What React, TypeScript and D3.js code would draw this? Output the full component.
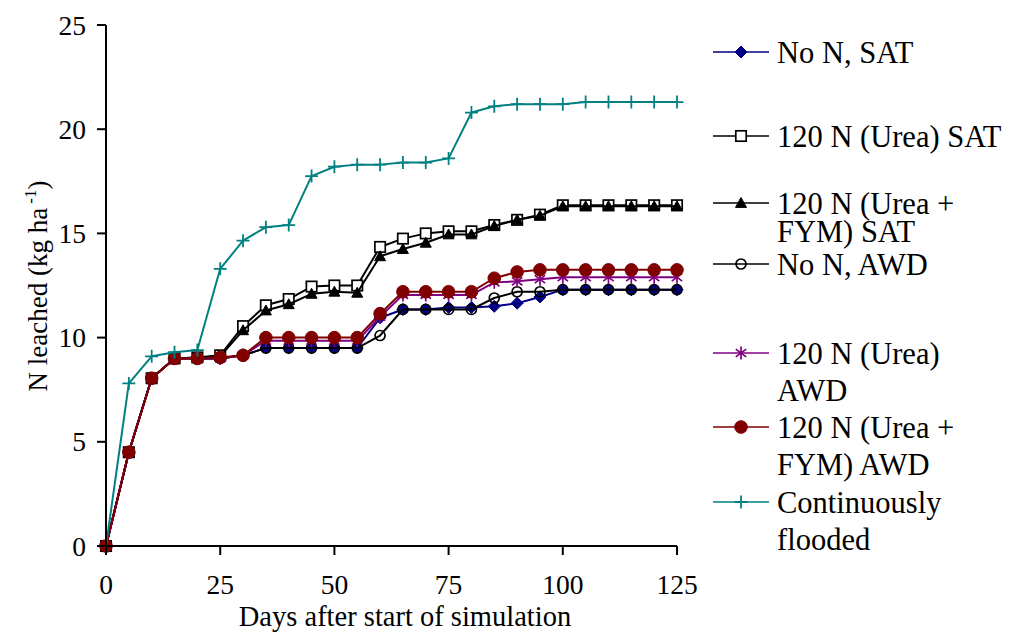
import React from 'react';
import * as d3 from 'd3';

// Simulation days (every 5 days)
const days = [0, 5, 10, 15, 20, 25, 30, 35, 40, 45, 50, 55, 60, 65, 70, 75, 80, 85, 90, 95, 100, 105, 110, 115, 120, 125];

// Cumulative N leached (kg ha-1) per treatment
const noNSat = [0, 4.5, 8.05, 9.0, 9.0, 9.0, 9.15, 9.5, 9.5, 9.5, 9.5, 9.5, 10.95, 11.35, 11.35, 11.45, 11.45, 11.5, 11.65, 11.95, 12.3, 12.3, 12.3, 12.3, 12.3, 12.3];
const ureaSat = [0, 4.5, 8.05, 9.0, 9.05, 9.15, 10.55, 11.55, 11.85, 12.45, 12.5, 12.5, 14.35, 14.75, 15.0, 15.1, 15.1, 15.4, 15.65, 15.9, 16.35, 16.35, 16.35, 16.35, 16.35, 16.35];
const ureaFymSat = [0, 4.5, 8.05, 9.0, 9.05, 9.1, 10.35, 11.3, 11.6, 12.1, 12.2, 12.15, 13.9, 14.25, 14.55, 14.95, 14.95, 15.35, 15.65, 15.85, 16.3, 16.3, 16.3, 16.3, 16.3, 16.3];
const noNAwd = [0, 4.5, 8.05, 9.0, 9.0, 9.0, 9.15, 9.5, 9.5, 9.5, 9.5, 9.5, 10.1, 11.35, 11.35, 11.35, 11.35, 11.9, 12.2, 12.2, 12.3, 12.3, 12.3, 12.3, 12.3, 12.3];
const ureaAwd = [0, 4.5, 8.05, 9.0, 9.0, 9.0, 9.15, 9.85, 9.85, 9.85, 9.85, 9.85, 11.0, 12.05, 12.05, 12.05, 12.05, 12.65, 12.7, 12.8, 12.9, 12.9, 12.9, 12.9, 12.9, 12.9];
const ureaFymAwd = [0, 4.5, 8.05, 9.0, 9.0, 9.05, 9.15, 10.0, 10.0, 10.0, 10.0, 10.0, 11.15, 12.2, 12.2, 12.2, 12.2, 12.85, 13.15, 13.25, 13.25, 13.25, 13.25, 13.25, 13.25, 13.25];
const flooded = [0, 7.8, 9.1, 9.3, 9.4, 13.3, 14.65, 15.3, 15.4, 17.75, 18.2, 18.3, 18.3, 18.4, 18.4, 18.6, 20.8, 21.1, 21.2, 21.2, 21.2, 21.3, 21.3, 21.3, 21.3, 21.3];

// Legend labels (one entry per line of text)
const seriesLabels = [
  ['No N, SAT'],
  ['120 N (Urea) SAT'],
  ['120 N (Urea +', 'FYM) SAT'],
  ['No N, AWD'],
  ['120 N (Urea)', 'AWD'],
  ['120 N (Urea +', 'FYM) AWD'],
  ['Continuously', 'flooded'],
];

const xTicks = [0, 25, 50, 75, 100, 125];
const yTicks = [0, 5, 10, 15, 20, 25];

type MarkerKind = 'diamond' | 'square' | 'triangle' | 'ring' | 'star' | 'dot' | 'plus';

const seriesValues = [noNSat, ureaSat, ureaFymSat, noNAwd, ureaAwd, ureaFymAwd, flooded];
const seriesStyles: { color: string; marker: MarkerKind }[] = [
  { color: '#000080', marker: 'diamond' },
  { color: '#000000', marker: 'square' },
  { color: '#000000', marker: 'triangle' },
  { color: '#000000', marker: 'ring' },
  { color: '#800080', marker: 'star' },
  { color: '#800000', marker: 'dot' },
  { color: '#008080', marker: 'plus' },
];

// Legend layout: marker row centre and spacing between wrapped lines
const legendRows = [
  { y: 52, gap: 0 },
  { y: 136, gap: 0 },
  { y: 203, gap: 28 },
  { y: 264, gap: 0 },
  { y: 353, gap: 37 },
  { y: 427, gap: 37 },
  { y: 502, gap: 37 },
];

const FONT = '"Liberation Serif", "Times New Roman", serif';

function Marker({ kind, color, x, y }: { kind: MarkerKind; color: string; x: number; y: number }) {
  switch (kind) {
    case 'diamond': {
      const r = 6;
      return <path d={`M${x},${y - r}L${x + r},${y}L${x},${y + r}L${x - r},${y}Z`} fill={color} stroke={color} strokeWidth={1} />;
    }
    case 'square': {
      const r = 5.2;
      return <rect x={x - r} y={y - r} width={2 * r} height={2 * r} fill="#fff" stroke={color} strokeWidth={1.7} />;
    }
    case 'triangle': {
      const r = 5.5;
      return <path d={`M${x},${y - r}L${x + r},${y + r * 0.8}L${x - r},${y + r * 0.8}Z`} fill={color} stroke={color} strokeWidth={1} />;
    }
    case 'ring':
      return <circle cx={x} cy={y} r={5} fill="none" stroke={color} strokeWidth={1.7} />;
    case 'dot':
      return <circle cx={x} cy={y} r={6.3} fill={color} stroke={color} strokeWidth={1} />;
    case 'star': {
      const r = 6.5;
      const dx = r * 0.8;
      const dy = r * 0.6;
      return (
        <path
          d={`M${x},${y - r}L${x},${y + r}M${x - dx},${y - dy}L${x + dx},${y + dy}M${x - dx},${y + dy}L${x + dx},${y - dy}`}
          stroke={color}
          strokeWidth={1.7}
          fill="none"
        />
      );
    }
    case 'plus': {
      const r = 6.5;
      return <path d={`M${x - r},${y}L${x + r},${y}M${x},${y - r}L${x},${y + r}`} stroke={color} strokeWidth={1.8} fill="none" />;
    }
  }
  return null;
}

export default function App() {
  const width = 1014;
  const height = 633;
  const left = 106;
  const right = 677;
  const top = 25;
  const bottom = 546;

  const x = d3.scaleLinear().domain([0, 125]).range([left, right]);
  const y = d3.scaleLinear().domain([0, 25]).range([bottom, top]);

  const line = d3
    .line<number>()
    .x((_, i) => x(days[i]))
    .y((v) => y(v));

  return (
    <svg
      width={width}
      height={height}
      style={{ position: 'absolute', left: 0, top: 0, background: '#fff' }}
      fontFamily={FONT}
    >
      <rect width={width} height={height} fill="#fff" />

      {/* series lines and markers */}
      {seriesValues.map((vals, si) => {
        const st = seriesStyles[si];
        return (
          <g key={si}>
            <path d={line(vals) || ''} fill="none" stroke={st.color} strokeWidth={2} strokeLinejoin="round" />
            {vals.map((v, i) => (
              <Marker key={i} kind={st.marker} color={st.color} x={x(days[i])} y={y(v)} />
            ))}
          </g>
        );
      })}

      {/* axes */}
      <line x1={left} x2={left} y1={top} y2={bottom} stroke="#000" strokeWidth={2} />
      <line x1={left} x2={right} y1={bottom} y2={bottom} stroke="#000" strokeWidth={2} />
      {yTicks.map((t) => (
        <g key={`y${t}`}>
          <line x1={left - 9} x2={left} y1={y(t)} y2={y(t)} stroke="#000" strokeWidth={2} />
          <text x={86} y={y(t)} dy="0.35em" textAnchor="end" fontSize={27.5}>
            {t}
          </text>
        </g>
      ))}
      {xTicks.map((t) => (
        <g key={`x${t}`}>
          <line x1={x(t)} x2={x(t)} y1={bottom} y2={bottom + 9} stroke="#000" strokeWidth={2} />
          <text x={x(t)} y={594} textAnchor="middle" fontSize={27.5}>
            {t}
          </text>
        </g>
      ))}

      {/* axis titles */}
      <text x={405} y={626} textAnchor="middle" fontSize={28.5}>
        Days after start of simulation
      </text>
      <text transform="translate(47,286) rotate(-90)" textAnchor="middle" fontSize={27}>
        N leached (kg ha
        <tspan dy={-11} fontSize={17}>
          {' -1'}
        </tspan>
        <tspan dy={11}>)</tspan>
      </text>

      {/* legend */}
      {seriesLabels.map((lines, si) => {
        const st = seriesStyles[si];
        const row = legendRows[si];
        return (
          <g key={`lg${si}`}>
            <line x1={713} x2={769} y1={row.y} y2={row.y} stroke={st.color} strokeWidth={1.6} />
            <Marker kind={st.marker} color={st.color} x={741} y={row.y} />
            {lines.map((ln, li) => (
              <text key={li} x={777} y={row.y + 10.5 + li * row.gap} fontSize={30.5}>
                {ln}
              </text>
            ))}
          </g>
        );
      })}
    </svg>
  );
}
